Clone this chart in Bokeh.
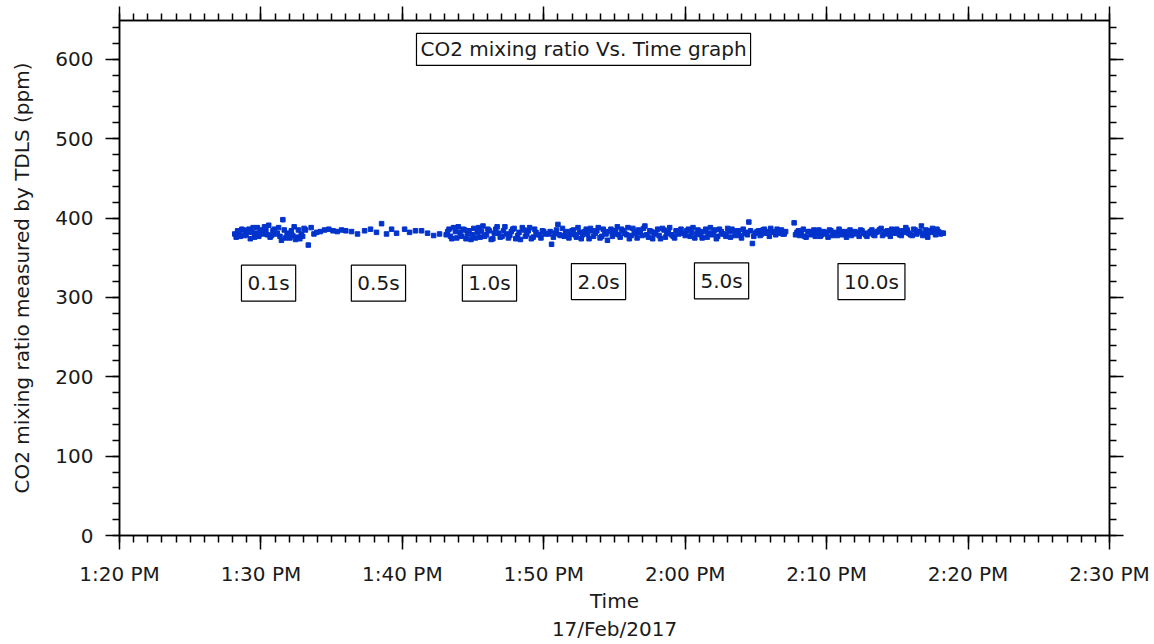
from datetime import datetime, timezone, timedelta
from bokeh.plotting import figure
from bokeh.models import (Range1d, FixedTicker, LinearAxis, DatetimeAxis, Label,
                          ColumnDataSource, CustomJSTickFormatter)
from bokeh.embed import file_html
from bokeh.resources import INLINE

# ---------------- data (minutes after 1:20 PM, 17 Feb 2017) ----------------
seg_01_min = [8.15, 8.35, 8.55, 8.75, 8.95, 9.15, 9.35, 9.55, 9.75, 9.95,
              10.15, 10.35, 10.55, 10.75, 10.95, 11.15, 11.35, 11.55, 11.75, 11.95,
              12.15, 12.35, 12.55, 12.75, 12.95, 13.15, 13.35, 13.55, 13.75, 13.95,
              14.2, 14.5, 14.8, 15.1, 15.4, 15.7, 16.0,
              8.25, 8.45, 8.65, 8.85, 9.05, 9.25, 9.45, 9.65, 9.85, 10.05,
              10.25, 10.45, 10.65, 10.85, 11.05, 11.25, 11.45, 11.65, 11.85, 12.05,
              12.25, 12.45, 12.65, 12.85, 13.05]
seg_01_ppm = [380, 384, 377, 385, 379, 386, 382, 376, 388, 383,
              380, 385, 391, 378, 386, 381, 377, 398, 375, 379,
              384, 389, 376, 374, 377, 385, 366, 388, 380, 382,
              383, 385, 386, 384, 383, 385, 384,
              376, 382, 386, 378, 383, 374, 388, 381, 377, 385,
              389, 379, 376, 384, 380, 388, 372, 385, 381, 375,
              378, 373, 385, 380, 387]

seg_05_min = [16.41, 16.83, 17.33, 17.75, 18.17, 18.53, 18.88, 19.24,
              19.59, 20.16, 20.51, 20.93, 21.36, 21.78, 22.21, 22.63]
seg_05_ppm = [383, 380, 384, 386, 382, 393, 380, 386,
              381, 386, 382, 384, 384, 381, 378, 380]

seg_10_min = [23.1, 23.3, 23.5, 23.75, 23.95, 24.2, 24.4, 24.6, 24.85, 25.05,
              25.3, 25.5, 25.7, 25.95, 26.15, 26.4, 26.6, 26.8, 27.05, 27.25,
              27.5, 27.7, 27.9, 28.15, 28.35, 28.6, 28.8, 29.0, 29.25, 29.45,
              29.7, 29.9, 30.1,
              23.2, 23.4, 23.62, 23.85, 24.08, 24.3, 24.5, 24.72, 24.95, 25.18,
              25.4, 25.6, 25.82, 26.05, 26.28, 26.5, 26.7, 26.92, 27.15, 27.38,
              27.6, 27.8, 28.02, 28.25, 28.48, 28.7, 28.9, 29.12, 29.35, 29.58,
              29.8, 30.0]
seg_10_ppm = [379, 386, 374, 383, 389, 377, 385, 380, 373, 387,
              382, 376, 390, 379, 384, 374, 386, 381, 377, 389,
              375, 383, 387, 378, 373, 385, 380, 388, 376, 382,
              379, 384, 380,
              383, 377, 388, 375, 382, 386, 374, 384, 379, 375,
              388, 383, 377, 386, 373, 381, 389, 376, 384, 380,
              378, 386, 374, 382, 388, 377, 384, 374, 386, 379,
              375, 383]

seg_20_min = [30.35, 30.55, 30.8, 31.0, 31.2, 31.45, 31.65, 31.9, 32.1, 32.3,
              32.55, 32.75, 33.0, 33.2, 33.4, 33.65, 33.85, 34.1, 34.3, 34.5,
              34.75, 34.95, 35.2, 35.4, 35.6, 35.85, 36.05, 36.3, 36.5, 36.7,
              36.95, 37.15, 37.4, 37.6, 37.8, 38.05, 38.25, 38.5, 38.7, 38.9,
              39.15, 39.35, 39.55, 39.7,
              30.45, 30.68, 30.9, 31.1, 31.32, 31.55, 31.78, 32.0, 32.2, 32.42,
              32.65, 32.88, 33.1, 33.3, 33.52, 33.75, 33.98, 34.2, 34.4, 34.62,
              34.85, 35.08, 35.3, 35.5, 35.72, 35.95, 36.18, 36.4, 36.6, 36.82,
              37.05, 37.28, 37.5, 37.7, 37.92, 38.15, 38.38, 38.6, 38.8, 39.02,
              39.25, 39.45]
seg_20_ppm = [380, 367, 381, 392, 378, 377, 383, 380, 385, 376,
              382, 379, 386, 374, 384, 381, 388, 377, 383, 372,
              386, 380, 389, 376, 384, 379, 374, 387, 381, 385,
              378, 390, 376, 383, 380, 386, 374, 385, 381, 388,
              377, 384, 380, 386,
              383, 376, 385, 379, 387, 381, 375, 384, 379, 388,
              374, 383, 380, 387, 377, 384, 375, 386, 380, 383,
              377, 384, 379, 386, 381, 388, 378, 383, 375, 382,
              387, 379, 384, 374, 382, 378, 387, 376, 383, 379,
              375, 383]

seg_50_min = [39.9, 40.1, 40.35, 40.55, 40.8, 41.0, 41.2, 41.45, 41.65, 41.9,
              42.1, 42.3, 42.55, 42.75, 43.0, 43.2, 43.4, 43.65, 43.85, 44.1,
              44.3, 44.5, 44.75, 44.95, 45.2, 45.4, 45.6, 45.85, 46.05, 46.3,
              46.5, 46.7, 46.9, 47.1,
              40.0, 40.22, 40.45, 40.68, 40.9, 41.1, 41.32, 41.55, 41.78, 42.0,
              42.2, 42.42, 42.65, 42.88, 43.1, 43.3, 43.52, 43.75, 43.98, 44.2,
              44.4, 44.62, 44.85, 45.08, 45.3, 45.5, 45.72, 45.95, 46.18, 46.4,
              46.6, 46.8, 47.0]
seg_50_ppm = [381, 384, 377, 388, 380, 383, 375, 386, 381, 379,
              385, 377, 383, 380, 387, 376, 384, 381, 378, 386,
              382, 395, 368, 381, 384, 380, 386, 383, 387, 382,
              386, 384, 380, 383,
              378, 386, 382, 375, 385, 379, 383, 376, 388, 382,
              374, 386, 380, 377, 383, 386, 378, 384, 375, 381,
              379, 384, 377, 383, 378, 385, 381, 377, 383, 379,
              381, 385, 380]

seg_100_min = [47.7, 47.9, 48.1, 48.35, 48.55, 48.8, 49.0, 49.2, 49.45, 49.65,
               49.9, 50.1, 50.3, 50.55, 50.75, 51.0, 51.2, 51.4, 51.65, 51.85,
               52.1, 52.3, 52.5, 52.75, 52.95, 53.2, 53.4, 53.6, 53.85, 54.05,
               54.3, 54.5, 54.7, 54.95, 55.15, 55.4, 55.6, 55.8, 56.05, 56.25,
               56.5, 56.7, 56.9, 57.15, 57.35, 57.6, 57.8, 58.05, 58.25,
               47.8, 48.0, 48.22, 48.45, 48.68, 48.9, 49.1, 49.32, 49.55, 49.78,
               50.0, 50.2, 50.42, 50.65, 50.88, 51.1, 51.3, 51.52, 51.75, 51.98,
               52.2, 52.4, 52.62, 52.85, 53.08, 53.3, 53.5, 53.72, 53.95, 54.18,
               54.4, 54.6, 54.82, 55.05, 55.28, 55.5, 55.7, 55.92, 56.15, 56.38,
               56.6, 56.8, 57.02, 57.25, 57.48, 57.7, 57.92, 58.15]
seg_100_ppm = [394, 382, 378, 386, 376, 383, 380, 377, 385, 379,
               382, 376, 384, 380, 378, 383, 381, 376, 385, 380,
               382, 377, 384, 379, 381, 385, 378, 383, 387, 380,
               384, 377, 382, 386, 379, 384, 388, 381, 378, 385,
               383, 390, 380, 376, 384, 382, 386, 380, 381,
               379, 384, 381, 377, 383, 379, 385, 381, 377, 383,
               380, 385, 378, 382, 386, 379, 383, 381, 378, 383,
               380, 385, 381, 377, 383, 379, 382, 385, 378, 383,
               380, 386, 381, 384, 378, 382, 385, 379, 386, 380,
               383, 378, 385, 382, 387, 379, 383, 381]

# interval labels and their anchor positions (minutes after 1:20 PM, ppm)
interval_labels = ["0.1s", "0.5s", "1.0s", "2.0s", "5.0s", "10.0s"]
interval_label_min = [10.54, 18.31, 26.16, 33.87, 42.57, 53.17]
interval_label_ppm = [318, 318, 318, 320, 321, 320]

title_text = "CO2 mixing ratio Vs. Time graph"
x_tick_labels = ["1:20 PM", "1:30 PM", "1:40 PM", "1:50 PM", "2:00 PM",
                 "2:10 PM", "2:20 PM", "2:30 PM"]
y_ticks = [0, 100, 200, 300, 400, 500, 600]

# ---------------- helpers ----------------
BASE = datetime(2017, 2, 17, 13, 20, tzinfo=timezone.utc)


def to_ms(minutes):
    return (BASE + timedelta(minutes=minutes)).timestamp() * 1000.0


all_min = seg_01_min + seg_05_min + seg_10_min + seg_20_min + seg_50_min + seg_100_min
all_ppm = seg_01_ppm + seg_05_ppm + seg_10_ppm + seg_20_ppm + seg_50_ppm + seg_100_ppm
src = ColumnDataSource(dict(t=[to_ms(m) for m in all_min], ppm=all_ppm))

FONT = "DejaVu Sans"
TXT = "#1a1a1a"
FS = "20px"

p = figure(width=1154, height=644, x_axis_type="datetime",
           x_range=Range1d(to_ms(0), to_ms(70)), y_range=Range1d(0, 649),
           output_backend="svg", toolbar_location=None,
           min_border_left=119, min_border_right=45,
           min_border_top=20, min_border_bottom=109)
p.xgrid.visible = False
p.ygrid.visible = False
p.outline_line_color = "black"
p.outline_line_width = 1.5
p.background_fill_color = "white"
p.border_fill_color = "white"

x_major = [to_ms(10 * i) for i in range(8)]
x_minor = [to_ms(i) for i in range(71)]
x_ticker = FixedTicker(ticks=x_major, minor_ticks=x_minor)
y_ticker = FixedTicker(ticks=y_ticks, minor_ticks=list(range(0, 660, 20)))


def style(ax):
    ax.axis_line_color = "black"
    ax.axis_line_width = 1.5
    ax.major_tick_line_color = "black"
    ax.minor_tick_line_color = "black"
    ax.major_tick_line_width = 1.5
    ax.minor_tick_line_width = 1.5
    ax.major_tick_in = 0
    ax.minor_tick_in = 0
    ax.major_tick_out = 14
    ax.minor_tick_out = 7
    ax.major_label_text_font = FONT
    ax.major_label_text_color = TXT
    ax.major_label_text_font_size = FS
    ax.axis_label_text_font = FONT
    ax.axis_label_text_color = TXT
    ax.axis_label_text_font_size = FS
    ax.axis_label_text_font_style = "normal"


xb = p.xaxis[0]
xb.ticker = x_ticker
xb.major_label_overrides = {x_major[i]: x_tick_labels[i] for i in range(8)}
xb.axis_label = "Time\n17/Feb/2017"
style(xb)
xb.major_label_standoff = 12
xb.axis_label_standoff = 0

yl = p.yaxis[0]
yl.ticker = y_ticker
yl.axis_label = "CO2 mixing ratio measured by TDLS (ppm)"
style(yl)
yl.major_label_standoff = 12
yl.axis_label_standoff = 18

xt = DatetimeAxis(ticker=x_ticker, formatter=CustomJSTickFormatter(code="return ''"))
style(xt)
p.add_layout(xt, "above")
yr = LinearAxis(ticker=y_ticker, formatter=CustomJSTickFormatter(code="return ''"))
style(yr)
p.add_layout(yr, "right")

p.scatter("t", "ppm", source=src, marker="square", size=4.5,
          fill_color="#0033cc", line_color="#0033cc")

for txt, m, v in zip(interval_labels, interval_label_min, interval_label_ppm):
    p.add_layout(Label(x=to_ms(m), y=v, text=txt, text_align="center",
                       text_baseline="middle", text_font=FONT, text_color=TXT,
                       text_font_size=FS, border_line_color="black",
                       border_line_width=1.2, background_fill_color="white",
                       padding=6))

p.add_layout(Label(x=to_ms(32.81), y=612.6, text=title_text, text_align="center",
                   text_baseline="middle", text_font=FONT, text_color=TXT,
                   text_font_size=FS, border_line_color="black",
                   border_line_width=1.2, background_fill_color="white",
                   padding=4))

open("out.html", "w").write(file_html(p, INLINE))
